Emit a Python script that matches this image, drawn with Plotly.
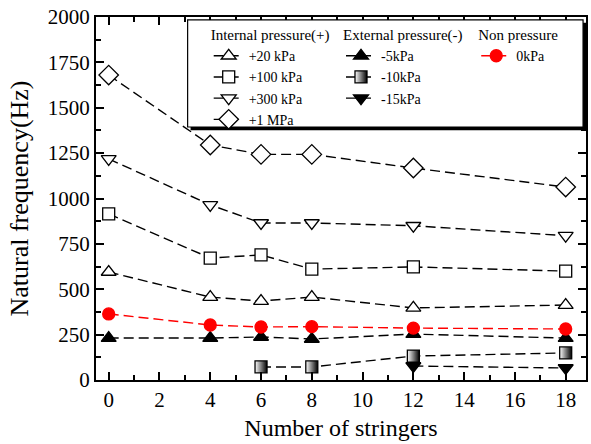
import plotly.graph_objects as go

stringers = [0, 4, 6, 8, 12, 18]
int_20k = [595, 457, 435, 457, 397, 413]
int_100k = [915, 672, 689, 611, 623, 600]
int_300k = [1218, 965, 865, 865, 850, 795]
int_1M = [1680, 1295, 1243, 1243, 1168, 1063]
zero_kpa = [364, 303, 292, 294, 286, 281]
ext_5k = [231, 231, 237, 226, 253, 231]
ext_10k_x = [6, 8, 12, 18]
ext_10k = [72, 72, 132, 149]
ext_15k_x = [12, 18]
ext_15k = [77, 66]

FONT = "Liberation Serif"
fig = go.Figure()

def add(x, y, name, symbol, legend, color="black", fill="white", grad=None, size=13):
    marker = dict(symbol=symbol, size=size, color=fill,
                  line=dict(color=color, width=1.3))
    if grad:
        marker["gradient"] = dict(type="horizontal", color=grad)
    fig.add_trace(go.Scatter(
        x=x, y=y, name=name, mode="lines+markers",
        line=dict(color=color, dash="10px,5px", width=1.4),
        marker=marker, legend=legend, cliponaxis=False))

add(stringers, int_20k, "+20 kPa", "triangle-up", "legend")
add(stringers, int_100k, "+100 kPa", "square", "legend", size=12)
add(stringers, int_300k, "+300 kPa", "triangle-down", "legend")
add(stringers, int_1M, "+1 MPa", "diamond", "legend", size=15)
add(stringers, ext_5k, "-5kPa", "triangle-up", "legend2", fill="black")
add(ext_10k_x, ext_10k, "-10kPa", "square", "legend2", fill="white", grad="black", size=12)
add(ext_15k_x, ext_15k, "-15kPa", "triangle-down", "legend2", fill="black")
add(stringers, zero_kpa, "0kPa", "circle", "legend3", color="red", fill="red", size=12)

leg_common = dict(font=dict(family=FONT, size=14, color="black"),
                  bgcolor="rgba(0,0,0,0)", borderwidth=0,
                  yanchor="top", xanchor="left", y=0.99)
tfont = dict(family=FONT, size=15, color="black")
fig.update_layout(
    width=591, height=444,
    margin=dict(l=96, r=3, t=17, b=64),
    paper_bgcolor="white", plot_bgcolor="white",
    font=dict(family=FONT, color="black"),
    legend=dict(x=0.23, title=dict(text="Internal pressure(+)", font=tfont), **leg_common),
    legend2=dict(x=0.50, title=dict(text="External pressure(-)", font=tfont), **leg_common),
    legend3=dict(x=0.776, title=dict(text="Non pressure", font=tfont), **leg_common),
    shapes=[
        dict(type="rect", xref="paper", yref="paper", x0=0.193, x1=1.0, y0=0.688, y1=0.984,
             fillcolor="black", line=dict(width=0), layer="above"),
        dict(type="rect", xref="paper", yref="paper", x0=0.187, x1=0.994, y0=0.697, y1=0.992,
             fillcolor="white", line=dict(color="black", width=1.2), layer="above"),
    ],
)
fig.update_xaxes(range=[-0.5, 18.8], tickmode="array", tickvals=list(range(0, 19, 2)),
                 ticks="inside", ticklen=8, tickwidth=1.5, tickcolor="black",
                 minor=dict(ticks="inside", ticklen=5, tickwidth=1.5, dtick=1, tickcolor="black"),
                 showline=True, linewidth=2, linecolor="black", mirror="allticks",
                 showgrid=False, zeroline=False,
                 tickfont=dict(family=FONT, size=21),
                 title=dict(text="Number of stringers", font=dict(family=FONT, size=24), standoff=8))
fig.update_yaxes(range=[0, 2000], tickvals=list(range(0, 2001, 250)),
                 ticks="inside", ticklen=8, tickwidth=1.5, tickcolor="black",
                 minor=dict(ticks="inside", ticklen=5, tickwidth=1.5, dtick=125, tickcolor="black"),
                 showline=True, linewidth=2, linecolor="black", mirror="allticks",
                 showgrid=False, zeroline=False,
                 tickfont=dict(family=FONT, size=21),
                 title=dict(text="Natural frequency(Hz)", font=dict(family=FONT, size=26), standoff=12))
fig.write_html("out.html")
